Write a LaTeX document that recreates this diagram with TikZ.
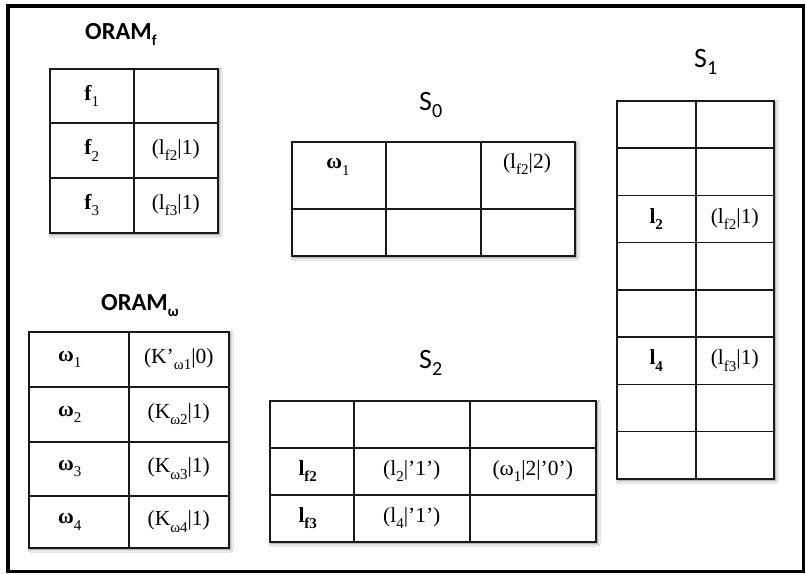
\documentclass[tikz,border=0pt]{standalone}
\usepackage{fontspec}
\setmainfont{Liberation Serif}
\newfontfamily\titlefont{Carlito}
\usetikzlibrary{shadows.blur}

% lowered index in table cells and in titles
\newcommand\lowidx[1]{\raisebox{-0.3em}{\fontsize{15}{15}\selectfont #1}}
\newcommand\ttlidx[2]{\raisebox{-0.25em}{\fontsize{#1}{#1}\selectfont #2}}

\begin{document}
\begin{tikzpicture}[x=1pt,y=-1pt,
  gridcell/.style={draw=black!90, line width=1.5pt, rectangle, inner sep=0pt,
    anchor=north west},
  tabshade/.style={fill=white, blur shadow={shadow xshift=2.5pt,
    shadow yshift=-2.5pt, shadow blur radius=2.5pt, shadow opacity=55}},
  txt/.style={font=\fontsize{21.5}{21.5}\selectfont, inner sep=0pt},
  ttl/.style={font=\titlefont\fontsize{28}{28}\selectfont, anchor=base west,
    inner sep=0pt},
  ttlbold/.style={ttl, font=\titlefont\bfseries\fontsize{24.5}{24.5}\selectfont}]

\useasboundingbox (0,0) rectangle (806,574);
\fill[white] (0,0) rectangle (806,574);

% outer frame
\draw[line width=3.5pt] (8,6) rectangle (803.5,571.5);

% ---------- ORAM_f ----------
\node[ttlbold] (ttlF) at (85,39) {ORAM\ttlidx{15}{f}};
\path[tabshade] (49,68) rectangle (217,232);
\foreach \i/\ya/\yb in {1/68/122,2/122/177,3/177/232}
  \foreach \j/\xa/\xb in {1/49/133,2/133/217}
    \node[gridcell, minimum width={(\xb-\xa)*1pt}, minimum height={(\yb-\ya)*1pt}]
      (F-\i-\j) at (\xa,\ya) {};
\node[txt] (F-a1) at (F-1-1) {\textbf{f}\lowidx{1}};
\node[txt] (F-a2) at (F-2-1) {\textbf{f}\lowidx{2}};
\node[txt] (F-a3) at (F-3-1) {\textbf{f}\lowidx{3}};
\node[txt] (F-b2) at (F-2-2) {(l\lowidx{f2}|1)};
\node[txt] (F-b3) at (F-3-2) {(l\lowidx{f3}|1)};

% ---------- S_0 ----------
\node[ttl] (ttlS0) at (419,110) {S\ttlidx{20}{0}};
\path[tabshade] (291,141) rectangle (574,255);
\foreach \i/\ya/\yb in {1/141/208,2/208/255}
  \foreach \j/\xa/\xb in {1/291/385,2/385/480,3/480/574}
    \node[gridcell, minimum width={(\xb-\xa)*1pt}, minimum height={(\yb-\ya)*1pt}]
      (A-\i-\j) at (\xa,\ya) {};
\node[txt] (A-a1) at (338,167) {\textbf{ω}\lowidx{1}};
\node[txt] (A-c1) at (527,164) {(l\lowidx{f2}|2)};

% ---------- S_1 ----------
\node[ttl] (ttlS1) at (694,67) {S\ttlidx{20}{1}};
\path[tabshade] (616,100) rectangle (773,478);
\foreach \i in {1,...,8}
  \foreach \j/\xa/\xb in {1/616/695,2/695/773}
    \node[gridcell, minimum width={(\xb-\xa)*1pt}, minimum height=47.25pt]
      (B-\i-\j) at (\xa,{100+(\i-1)*47.25}) {};
\node[txt] (B-a3) at (B-3-1) {\textbf{l}\lowidx{\textbf{2}}};
\node[txt] (B-b3) at (B-3-2) {(l\lowidx{f2}|1)};
\node[txt] (B-a6) at (B-6-1) {\textbf{l}\lowidx{\textbf{4}}};
\node[txt] (B-b6) at (B-6-2) {(l\lowidx{f3}|1)};

% ---------- ORAM_omega ----------
\node[ttlbold] (ttlW) at (101,310) {ORAM\ttlidx{15}{ω}};
\path[tabshade] (28,331) rectangle (228,547);
\foreach \i/\ya/\yb in {1/331/386,2/386/441,3/441/495,4/495/547}
  \foreach \j/\xa/\xb in {1/28/128,2/128/228}
    \node[gridcell, minimum width={(\xb-\xa)*1pt}, minimum height={(\yb-\ya)*1pt}]
      (W-\i-\j) at (\xa,\ya) {};
\foreach \i in {1,...,4}
  \node[txt] (W-a\i) at ([xshift=-9pt]W-\i-1.center) {\textbf{ω}\lowidx{\i}};
\node[txt] (W-b1) at (W-1-2) {(K’\lowidx{ω1}|0)};
\node[txt] (W-b2) at (W-2-2) {(K\lowidx{ω2}|1)};
\node[txt] (W-b3) at (W-3-2) {(K\lowidx{ω3}|1)};
\node[txt] (W-b4) at (W-4-2) {(K\lowidx{ω4}|1)};

% ---------- S_2 ----------
\node[ttl] (ttlS2) at (419,368) {S\ttlidx{20}{2}};
\path[tabshade] (269,400) rectangle (595,541);
\foreach \i/\ya/\yb in {1/400/447,2/447/494,3/494/541}
  \foreach \j/\xa/\xb in {1/269/353,2/353/469,3/469/595}
    \node[gridcell, minimum width={(\xb-\xa)*1pt}, minimum height={(\yb-\ya)*1pt}]
      (C-\i-\j) at (\xa,\ya) {};
\node[txt] (C-a2) at ([xshift=-4pt]C-2-1.center) {\textbf{l\lowidx{f2}}};
\node[txt] (C-a3) at ([xshift=-4pt]C-3-1.center) {\textbf{l\lowidx{f3}}};
\node[txt] (C-b2) at (C-2-2) {(l\lowidx{2}|’1’)};
\node[txt] (C-b3) at (C-3-2) {(l\lowidx{4}|’1’)};
\node[txt] (C-c2) at (C-2-3) {(ω\lowidx{1}|2|’0’)};

\end{tikzpicture}
\end{document}
